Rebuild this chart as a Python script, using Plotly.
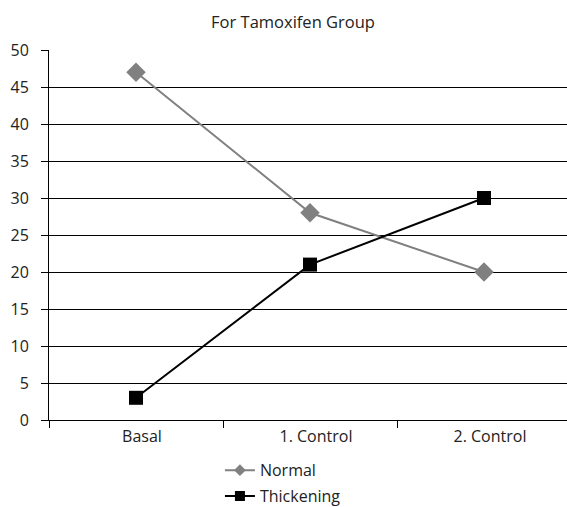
import plotly.graph_objects as go

# Study time points and group percentages
stages = ["Basal", "1. Control", "2. Control"]
normal = [47, 28, 20]
thickening = [3, 21, 30]
y_ticks = [0, 5, 10, 15, 20, 25, 30, 35, 40, 45, 50]

GREY = "#808080"
BLACK = "#000000"

fig = go.Figure()
fig.add_trace(go.Scatter(
    x=stages, y=normal, name="Normal", mode="lines+markers",
    line=dict(color=GREY, width=2),
    marker=dict(symbol="diamond", size=15, color=GREY),
    showlegend=False,
))
fig.add_trace(go.Scatter(
    x=stages, y=thickening, name="Thickening", mode="lines+markers",
    line=dict(color=BLACK, width=2),
    marker=dict(symbol="square", size=14, color=BLACK),
    showlegend=False,
))
# legend entries with smaller key markers
fig.add_trace(go.Scatter(
    x=[None], y=[None], name="Normal", mode="lines+markers",
    line=dict(color=GREY, width=2),
    marker=dict(symbol="diamond", size=9, color=GREY),
    legendgroup="a",
))
fig.add_trace(go.Scatter(
    x=[None], y=[None], name="Thickening", mode="lines+markers",
    line=dict(color=BLACK, width=2),
    marker=dict(symbol="square", size=10, color=BLACK),
    legendgroup="b",
))

fig.update_layout(
    width=567, height=507,
    paper_bgcolor="white", plot_bgcolor="white",
    margin=dict(l=49, r=0, t=50, b=87, autoexpand=False),
    font=dict(family="Open Sans, DejaVu Sans, sans-serif", size=16, color="#222222"),
    title=dict(text="For Tamoxifen Group", x=293 / 567, xanchor="center",
               y=1 - 22 / 507, yanchor="middle", font=dict(size=16.5)),
    showlegend=True,
    legend=dict(orientation="v", x=0.33, xanchor="left", y=-0.09, yanchor="top",
                font=dict(size=16), tracegroupgap=2, itemwidth=30,
                bgcolor="rgba(0,0,0,0)"),
    xaxis=dict(
        type="category", range=[-0.5, 2.477], tickson="boundaries",
        showline=True, linecolor="black", linewidth=1,
        ticks="outside", ticklen=7, tickcolor="black",
        ticklabelstandoff=2, ticklabelshift=6,
        showgrid=False, fixedrange=True,
    ),
    yaxis=dict(
        range=[0, 50], tickvals=y_ticks,
        showline=True, linecolor="black", linewidth=1,
        ticks="outside", ticklen=7, tickcolor="black",
        ticklabelstandoff=9,
        showgrid=True, gridcolor="black", gridwidth=1,
        zeroline=False, fixedrange=True,
    ),
)

fig.write_html("out.html")
